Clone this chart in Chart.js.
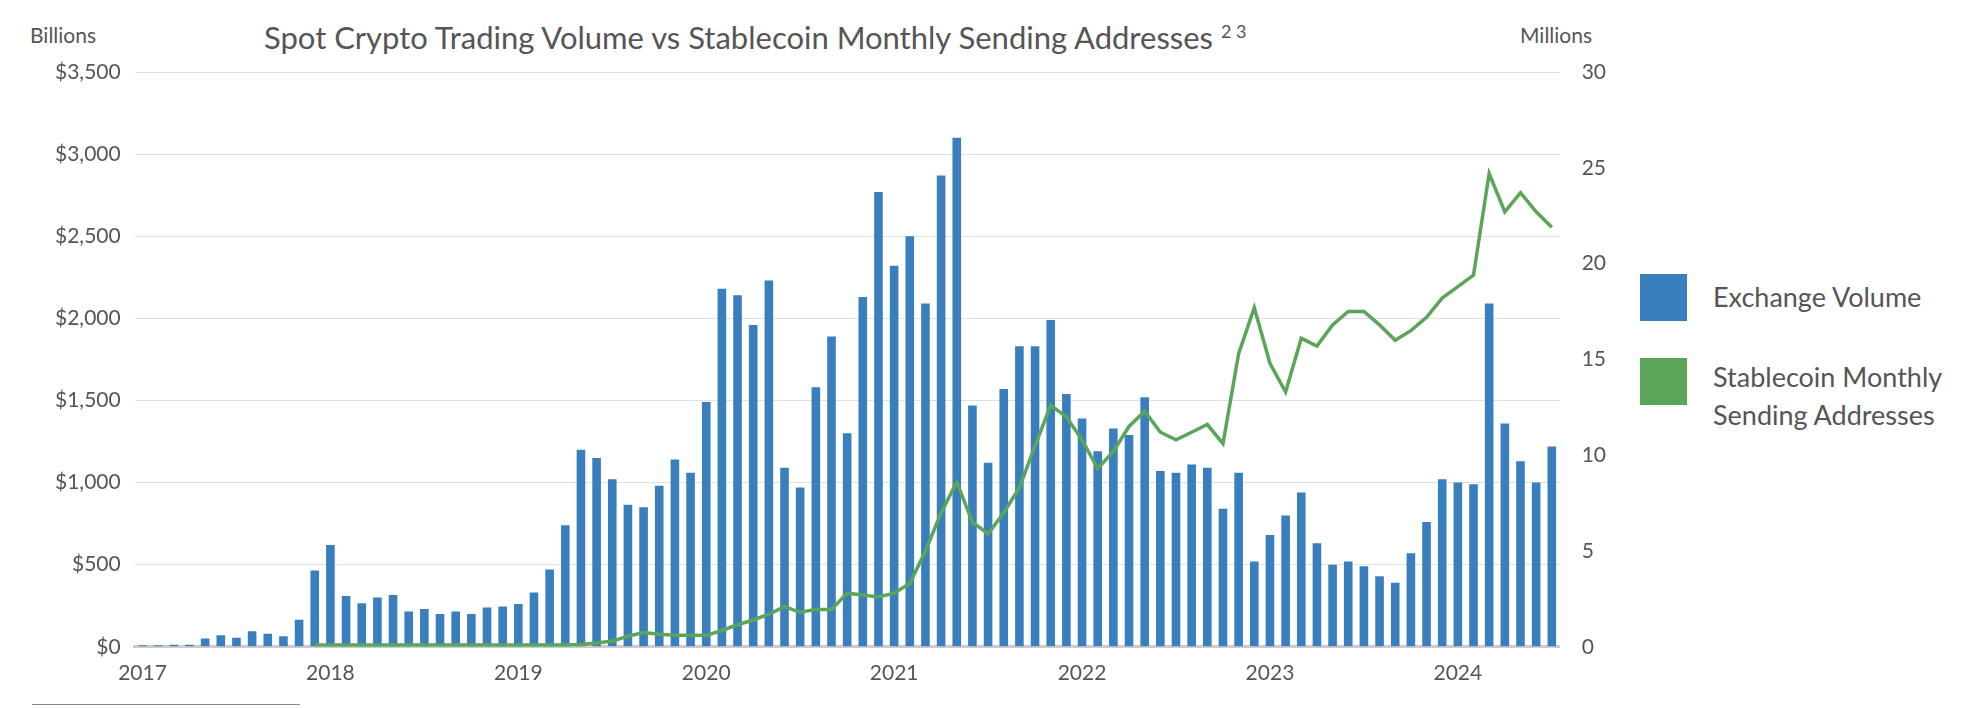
<!DOCTYPE html>
<html>
<head>
<meta charset="utf-8">
<script src="https://cdn.jsdelivr.net/npm/chart.js@4.4.0/dist/chart.umd.min.js"></script>
<style>
body { margin: 0; background: #fff; font-family: Lato, "Open Sans", sans-serif; color: #555; }
#wrap { position: relative; width: 1982px; height: 708px; }
#box { position: absolute; left: 0; top: 40px; width: 1620px; height: 668px; }
.t { position: absolute; white-space: nowrap; }
.lg { position: absolute; left: 1640px; display: flex; align-items: flex-start; font-size: 27px; color: #555; line-height: 38px; }
.sw { width: 47px; height: 47px; margin-right: 26px; flex: none; }
</style>
</head>
<body>
<div id="wrap">
  <div class="t" style="left:30px;top:22px;font-size:21px;">Billions</div>
  <div class="t" style="left:1520px;top:22px;font-size:21px;">Millions</div>
  <div class="t" style="left:264px;top:18px;font-size:31px;">Spot Crypto Trading Volume vs Stablecoin Monthly Sending Addresses <sup style="font-size:18px">2 3</sup></div>
  <div id="box"><canvas id="c"></canvas></div>
  <div class="lg" style="top:274px;"><div class="sw" style="background:#3a7fbd"></div><div style="margin-top:4px">Exchange Volume</div></div>
  <div class="lg" style="top:358px;"><div class="sw" style="background:#5aa55a"></div><div>Stablecoin Monthly<br>Sending Addresses</div></div>
  <div style="position:absolute;left:32px;top:704px;width:268px;height:1px;background:#888"></div>
</div>
<script>
const months = [];
for (let y = 2017; y <= 2024; y++) {
    for (let m = 1; m <= 12; m++) {
        if (y === 2024 && m > 7) break;
        months.push(y + '-' + String(m).padStart(2, '0'));
    }
}

// Billions USD
const exchangeVolume = [
    10, 10, 12, 12, 50, 70, 55, 95, 80, 65, 165, 465,
    620, 310, 265, 300, 315, 215, 230, 200, 215, 200, 240, 245,
    260, 330, 470, 740, 1200, 1150, 1020, 865, 850, 980, 1140, 1060,
    1490, 2180, 2140, 1960, 2230, 1090, 970, 1580, 1890, 1300, 2130, 2770,
    2320, 2500, 2090, 2870, 3100, 1470, 1120, 1570, 1830, 1830, 1990, 1540,
    1390, 1190, 1330, 1290, 1520, 1070, 1060, 1110, 1090, 840, 1060, 520,
    680, 800, 940, 630, 500, 520, 490, 430, 390, 570, 760, 1020,
    1000, 990, 2090, 1360, 1130, 1000, 1220
];

// Millions
const sendingAddresses = [
    null, null, null, null, null, null, null, null, null, null, null, 0.1,
    0.1, 0.1, 0.1, 0.1, 0.1, 0.1, 0.1, 0.1, 0.1, 0.1, 0.1, 0.1,
    0.1, 0.1, 0.1, 0.1, 0.12, 0.2, 0.3, 0.55, 0.75, 0.65, 0.6, 0.6,
    0.6, 0.85, 1.15, 1.4, 1.7, 2.1, 1.8, 1.95, 1.95, 2.8, 2.7, 2.6,
    2.8, 3.3, 5.0, 7.0, 8.6, 6.5, 5.9, 7.0, 8.3, 10.5, 12.6, 12.0,
    10.8, 9.3, 10.2, 11.5, 12.3, 11.2, 10.8, 11.2, 11.6, 10.6, 15.3, 17.7,
    14.8, 13.3, 16.1, 15.7, 16.8, 17.5, 17.5, 16.8, 16.0, 16.5, 17.2, 18.2,
    18.8, 19.4, 24.7, 22.7, 23.7, 22.7, 21.9
];

const tickFont = { family: 'Lato', size: 21 };

new Chart(document.getElementById('c'), {
    type: 'bar',
    data: {
        labels: months,
        datasets: [{
            type: 'line',
            data: sendingAddresses,
            yAxisID: 'y2',
            borderColor: '#5aa55a',
            borderWidth: 3.5,
            pointRadius: 0,
            tension: 0,
            order: 0
        }, {
            data: exchangeVolume,
            yAxisID: 'y',
            backgroundColor: '#3a7fbd',
            barPercentage: 0.55,
            categoryPercentage: 1,
            order: 1
        }]
    },
    options: {
        responsive: true,
        maintainAspectRatio: false,
        animation: false,
        layout: { padding: { top: 32, right: 0, left: 41, bottom: 16 } },
        plugins: { legend: { display: false }, tooltip: { enabled: false } },
        scales: {
            x: {
                grid: { display: false },
                border: { color: '#ccc', width: 3 },
                ticks: {
                    color: '#555', font: tickFont, maxRotation: 0, autoSkip: false, padding: 6,
                    callback: (v, i) => months[i].endsWith('-01') ? months[i].slice(0, 4) : ''
                }
            },
            y: {
                position: 'left',
                min: 0, max: 3500,
                grid: { color: '#e0e0e0', drawTicks: false },
                border: { display: false },
                ticks: {
                    stepSize: 500, color: '#555', font: tickFont, padding: 14,
                    callback: v => '$' + v.toLocaleString('en-US')
                }
            },
            y2: {
                position: 'right',
                min: 0, max: 30,
                grid: { display: false },
                border: { display: false },
                ticks: { stepSize: 5, color: '#555', font: tickFont, padding: 14 }
            }
        }
    }
});
</script>
</body>
</html>
